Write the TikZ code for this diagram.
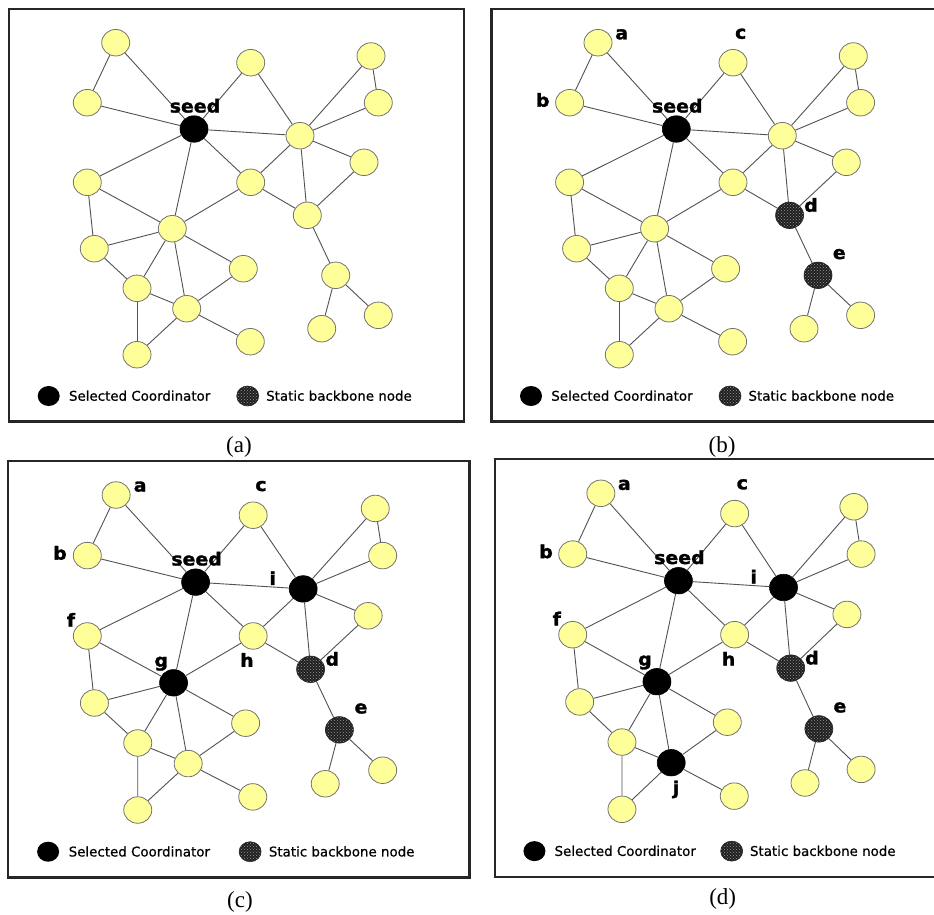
\documentclass[tikz,border=0pt]{standalone}
\usepackage{fontspec}
\setmainfont{Liberation Serif}
\newfontfamily\lblfont[FakeStretch=1.05,FakeBold=1.6]{DejaVu Sans Bold}
\newfontfamily\legfont[FakeBold=0.6]{DejaVu Sans}
\usetikzlibrary{shapes.geometric,patterns}
\definecolor{nodeyellow}{RGB}{255,255,153}
\tikzset{
  gnode/.style={ellipse, minimum width=28pt, minimum height=26.5pt, inner sep=0pt},
  gplain/.style={gnode, fill=nodeyellow, draw=black!55, line width=0.8pt},
  gcoord/.style={gnode, fill=black, draw=black, line width=0.6pt},
  gstatic/.style={gnode, draw=black!85, line width=0.6pt, preaction={fill=black!88}, pattern=crosshatch dots, pattern color=white!60!black},
  glink/.style={draw=black!68, line width=0.9pt},
  lbl/.style={anchor=base, inner sep=0pt, font=\lblfont\fontsize{18}{18}\selectfont},
  legtext/.style={anchor=base west, inner sep=0pt, font=\legfont\fontsize{13.4}{13.4}\selectfont},
  legdot/.style={ellipse, minimum width=22pt, minimum height=20pt, inner sep=0pt},
  panelframe/.style={draw=black!85, line width=2.5pt},
  captext/.style={anchor=base, inner sep=0pt, font=\fontsize{23}{23}\selectfont},
}
% #1 prefix, #2 transform, #3 i, #4 g, #5 j, #6 d, #7 e, #8 labels
\newcommand{\graphpanel}[8]{%
\begin{scope}[#2]
  \node[gplain] (#1n1) at (115.7,42.7) {};
  \node[gplain] (#1n2) at (87.3,102.7) {};
  \node[gcoord] (#1n3) at (194,129) {};
  \node[gplain] (#1n4) at (250.7,62.7) {};
  \node[gplain] (#1n5) at (371,56) {};
  \node[gplain] (#1n6) at (378.3,102.7) {};
  \node[#3] (#1n7) at (300,135.7) {};
  \node[gplain] (#1n8) at (364,162.3) {};
  \node[gplain] (#1n9) at (87.3,182.3) {};
  \node[gplain] (#1n10) at (250.7,182.3) {};
  \node[#6] (#1n11) at (307.3,215.3) {};
  \node[#4] (#1n12) at (172.3,228.7) {};
  \node[gplain] (#1n13) at (94.3,248.7) {};
  \node[gplain] (#1n14) at (243.3,268.7) {};
  \node[#7] (#1n15) at (335.7,275.3) {};
  \node[gplain] (#1n16) at (137,288.3) {};
  \node[#5] (#1n17) at (186.7,308.7) {};
  \node[gplain] (#1n18) at (378.3,315.3) {};
  \node[gplain] (#1n19) at (321.7,328.7) {};
  \node[gplain] (#1n20) at (250.3,341.7) {};
  \node[gplain] (#1n21) at (137,354.7) {};
  \foreach \u/\v in {1/2,1/3,2/3,3/4,4/7,3/7,5/7,5/6,6/7,7/8,7/10,7/11,8/11,3/9,3/10,3/12,10/11,10/12,9/12,9/13,12/13,12/14,12/16,12/17,13/16,16/17,16/21,17/21,17/14,17/20,11/15,15/18,15/19}
    \draw[glink] (#1n\u) -- (#1n\v);
  \node[legdot, fill=black] (#1lc) at (48.7,396) {};
  \node[legtext] (#1lct) at (68.8,400.7) {Selected Coordinator};
  \node[legdot, draw=black!85, line width=0.6pt, preaction={fill=black!88}, pattern=crosshatch dots, pattern color=white!60!black] (#1ls) at (247.7,396) {};
  \node[legtext] (#1lst) at (266,400.7) {Static backbone node};
  \node[lbl] (#1seed) at (195,112.5) {seed};
  #8
  \draw[panelframe] (9,9) rectangle (464,421.7);
\end{scope}}
\newcommand{\lblsab}[1]{%
  \node[lbl] (#1la) at (139.4,39.3) {a};
  \node[lbl] (#1lb) at (60.4,106.7) {b};
  \node[lbl] (#1lc2) at (258.4,38.7) {c};
  \node[lbl] (#1ld) at (328.7,211.7) {d};
  \node[lbl] (#1le) at (357,259) {e};}
\newcommand{\lblsc}[1]{%
  \node[lbl] (#1lf) at (71.2,173.1) {f};
  \node[lbl] (#1lg) at (160.2,212.8) {g};
  \node[lbl] (#1lh) at (244.6,212.8) {h};
  \node[lbl] (#1li) at (270,131.8) {i};}
\begin{document}
\begin{tikzpicture}[x=1pt,y=-1pt]
\clip (0,0) rectangle (934,914);
\fill[white] (0,0) rectangle (934,914);
\graphpanel{pa}{}{gplain}{gplain}{gplain}{gplain}{gplain}{}
\graphpanel{pb}{shift={(482.3,0)}}{gplain}{gplain}{gplain}{gstatic}{gstatic}{\lblsab{pb}}
\graphpanel{pc}{shift={(-1.31,451.9)},xscale=1.015,yscale=1.0096}{gcoord}{gcoord}{gplain}{gstatic}{gstatic}{\lblsab{pc}\lblsc{pc}}
\graphpanel{pd}{shift={(486.2,450.05)},xscale=0.991,yscale=1.0128}{gcoord}{gcoord}{gcoord}{gstatic}{gstatic}{\lblsab{pd}\lblsc{pd}\node[lbl] (pdlj) at (191.5,339.9) {j};}
\node[captext] (capa) at (239,452.7) {(a)};
\node[captext] (capb) at (722,452.7) {(b)};
\node[captext] (capc) at (240,907) {(c)};
\node[captext] (capd) at (722.7,904) {(d)};
\end{tikzpicture}
\end{document}
